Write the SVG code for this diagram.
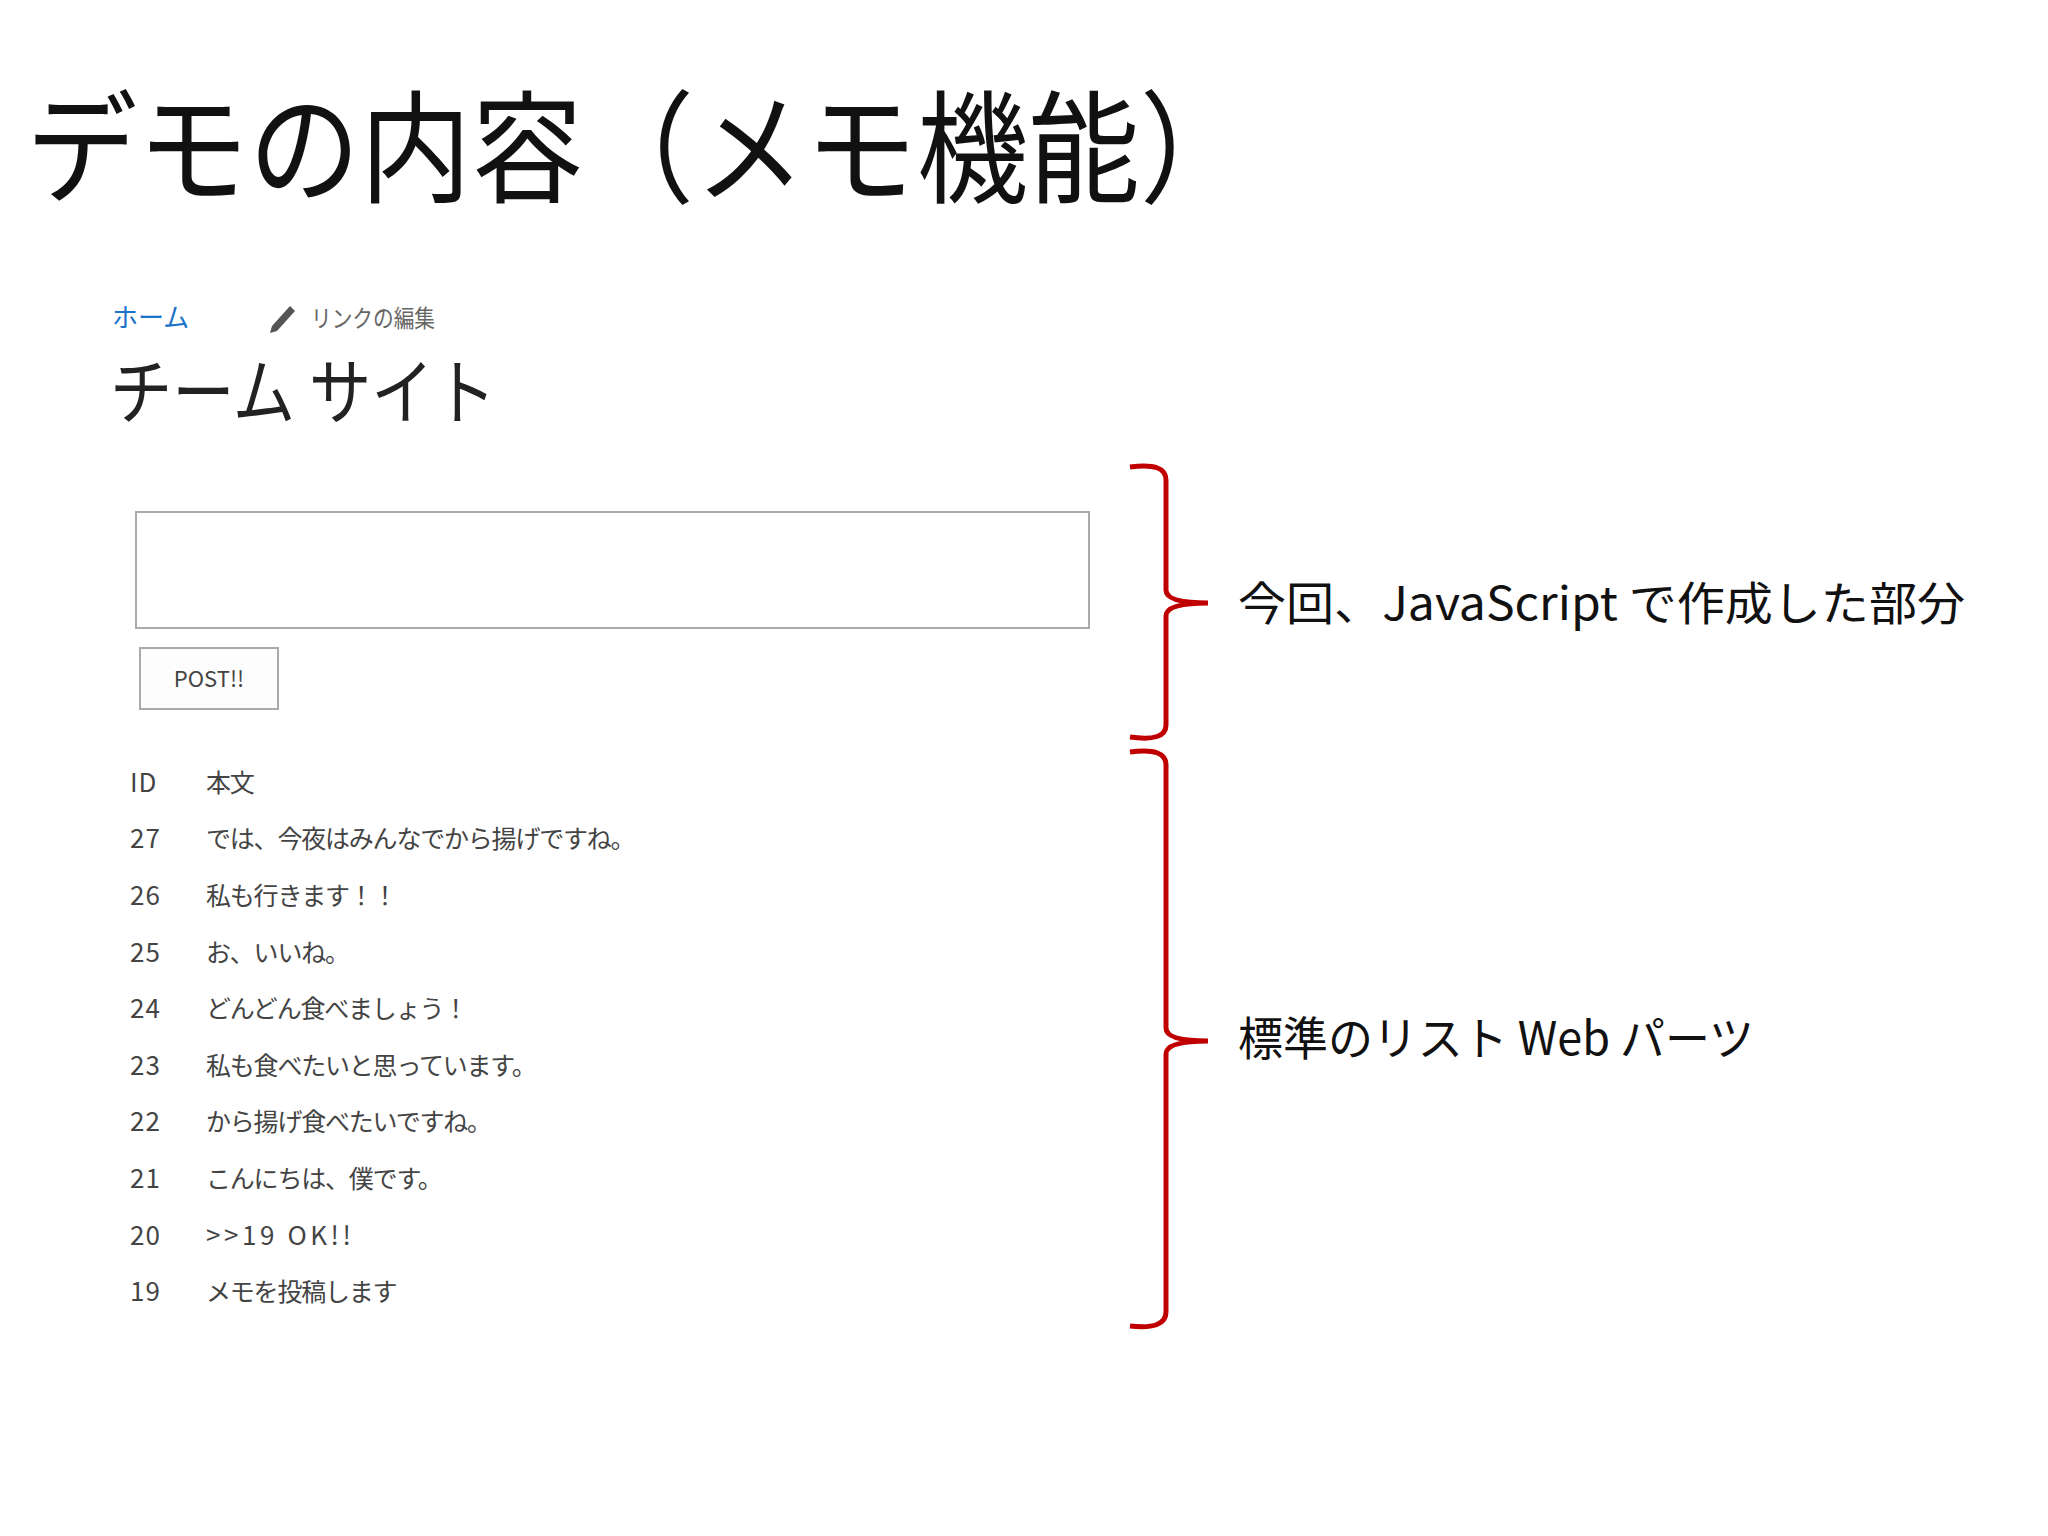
<svg xmlns="http://www.w3.org/2000/svg" width="2048" height="1536" viewBox="0 0 2048 1536">
<style>
.t{font-family:"Noto Sans CJK JP","Liberation Sans",sans-serif}
.row{font-family:"Noto Sans CJK JP","Liberation Sans",sans-serif;font-size:25px;letter-spacing:-1.2px;fill:#444}
.id{font-family:"Noto Sans CJK JP","Liberation Sans",sans-serif;font-size:26px;letter-spacing:1px;fill:#444}
.br{fill:none;stroke:#c00000;stroke-width:5}
</style>
<rect width="2048" height="1536" fill="#fff"/>
<text class="t" x="26" y="193" font-size="122" fill="#111" textLength="1225" lengthAdjust="spacingAndGlyphs">デモの内容（メモ機能）</text>
<g id="nav">
<text class="t" x="112" y="327" font-size="26" fill="#1a73c8">ホーム</text>
<path d="M272 326 L290 306 L295 311 L277 331 L270 333 Z" fill="#555"/>
<text class="t" x="311" y="327" font-size="24" fill="#666" textLength="124" lengthAdjust="spacingAndGlyphs">リンクの編集</text>
<text class="t" x="110" y="418" font-size="72" fill="#222" textLength="386" lengthAdjust="spacingAndGlyphs">チーム サイト</text>
</g>
<g id="textbox"><rect x="136" y="512" width="953" height="116" fill="#fff" stroke="#aaa" stroke-width="2"/></g>
<g id="button"><rect x="140" y="648" width="138" height="61" fill="#fdfdfd" stroke="#aaa" stroke-width="2"/>
<text class="t" x="209" y="687" font-size="22" fill="#444" text-anchor="middle">POST!!</text></g>
<g id="list">
<text class="id" x="130" y="792" fill="#666">ID</text><text class="row" x="206" y="792">本文</text>
<text class="id" x="130" y="848">27</text><text class="row" x="206" y="848">では、今夜はみんなでから揚げですね。</text>
<text class="id" x="130" y="905">26</text><text class="row" x="206" y="905">私も行きます！！</text>
<text class="id" x="130" y="962">25</text><text class="row" x="206" y="962">お、いいね。</text>
<text class="id" x="130" y="1018">24</text><text class="row" x="206" y="1018">どんどん食べましょう！</text>
<text class="id" x="130" y="1075">23</text><text class="row" x="206" y="1075">私も食べたいと思っています。</text>
<text class="id" x="130" y="1131">22</text><text class="row" x="206" y="1131">から揚げ食べたいですね。</text>
<text class="id" x="130" y="1188">21</text><text class="row" x="206" y="1188">こんにちは、僕です。</text>
<text class="id" x="130" y="1245">20</text><text class="id" x="206" y="1245" textLength="146">&gt;&gt;19 OK!!</text>
<text class="id" x="130" y="1301">19</text><text class="row" x="206" y="1301">メモを投稿します</text>
</g>
<g id="connectors">
<path class="br" d="M1130 467 Q1166 462 1166 480 L1166 590 Q1166 603 1208 603 Q1166 603 1166 616 L1166 725 Q1166 742 1130 737"/>
<path class="br" d="M1130 752 Q1166 747 1166 765 L1166 1028 Q1166 1041 1208 1041 Q1166 1041 1166 1054 L1166 1312 Q1166 1330 1130 1326"/>
</g>
<g id="labels">
<text class="t" x="1238" y="620" font-size="46" fill="#111" textLength="727" lengthAdjust="spacingAndGlyphs">今回、JavaScript で作成した部分</text>
<text class="t" x="1238" y="1055" font-size="46" fill="#111" textLength="516" lengthAdjust="spacingAndGlyphs">標準のリスト Web パーツ</text>
</g>
</svg>
